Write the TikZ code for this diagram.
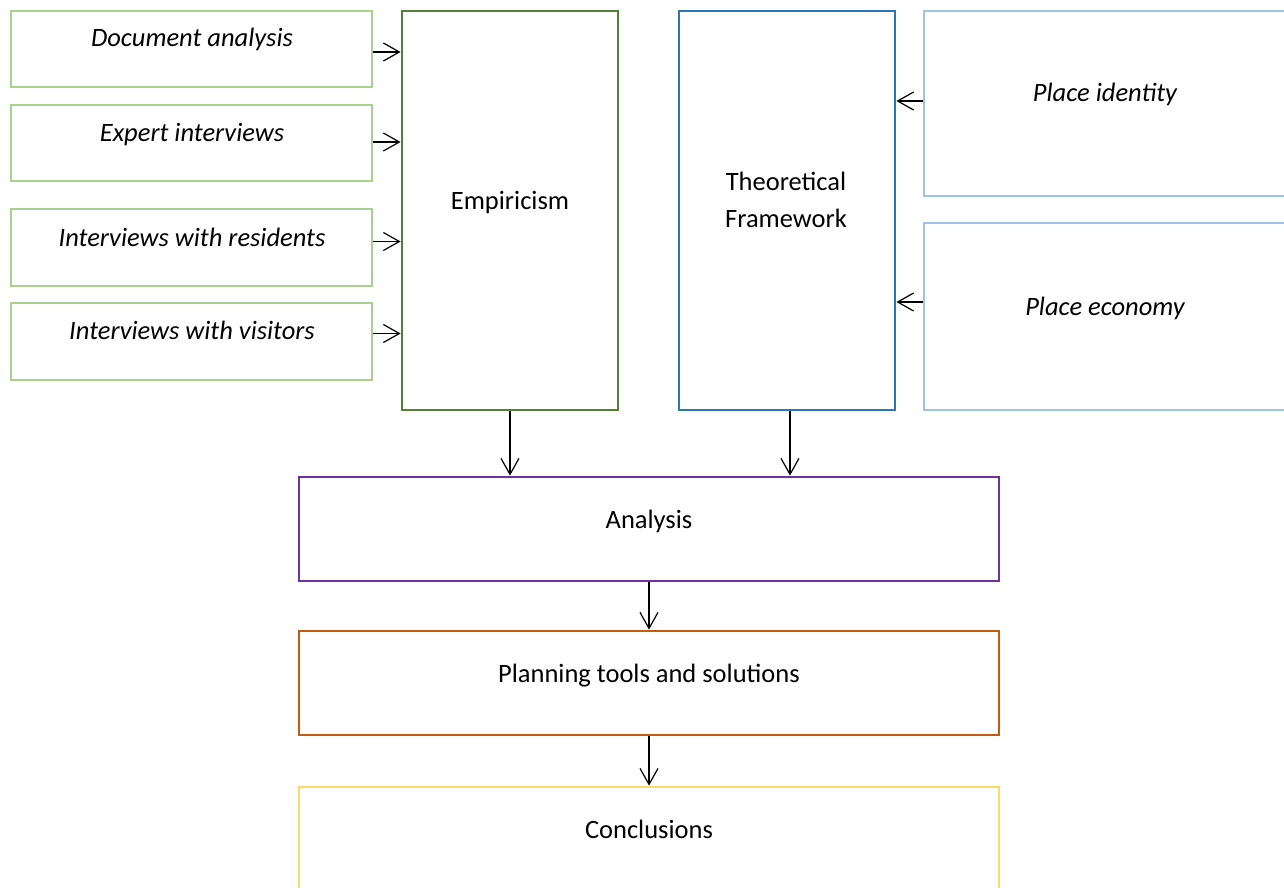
\documentclass[tikz,border=0pt]{standalone}
\usepackage{fontspec}
\setmainfont{Carlito}
\usetikzlibrary{arrows.meta}
\definecolor{lgreen}{HTML}{A9D18E}
\definecolor{dgreen}{HTML}{548235}
\definecolor{mblue}{HTML}{2E75B6}
\definecolor{lblue}{HTML}{9DC3E6}
\definecolor{mpurple}{HTML}{7030A0}
\definecolor{morange}{HTML}{C55A11}
\definecolor{myellow}{HTML}{FFD966}
\tikzset{
  boxnode/.style={draw, line width=2.8pt, inner sep=0pt},
  txt/.style={anchor=base, inner sep=0pt, align=center, font=\fontsize{26.5}{37}\selectfont},
  itxt/.style={txt, font=\fontsize{26.5}{37}\selectfont\itshape},
  arr/.style={line width=1.2pt, -{Straight Barb[length=16pt,width=18pt,line width=1.2pt]}},
}
\begin{document}
\begin{tikzpicture}[x=1pt,y=-1pt]
\useasboundingbox (0,0) rectangle (1284,888);
% left input boxes
\node[boxnode, draw=lgreen, minimum width=361pt, minimum height=76pt] (doc) at (191.5,49) {};
\node[boxnode, draw=lgreen, minimum width=361pt, minimum height=76pt] (exp) at (191.5,143) {};
\node[boxnode, draw=lgreen, minimum width=361pt, minimum height=77pt] (res) at (191.5,247.5) {};
\node[boxnode, draw=lgreen, minimum width=361pt, minimum height=77pt] (vis) at (191.5,341.5) {};
\node[itxt] (tdoc) at (192,47) {Document analysis};
\node[itxt] (texp) at (192,141) {Expert interviews};
\node[itxt] (tres) at (192,246) {Interviews with residents};
\node[itxt] (tvis) at (192,339) {Interviews with visitors};
% central columns
\node[boxnode, draw=dgreen, minimum width=216pt, minimum height=399pt] (emp) at (510,210.5) {};
\node[txt] (temp) at (510,209) {Empiricism};
\node[boxnode, draw=mblue, minimum width=216pt, minimum height=399pt] (theo) at (787,210.5) {};
\node[txt] (ttheo1) at (786,190) {Theoretical};
\node[txt] (ttheo2) at (786,227) {Framework};
% right boxes
\node[boxnode, draw=lblue, minimum width=364pt, minimum height=185pt] (pid) at (1106,103.5) {};
\node[boxnode, draw=lblue, minimum width=364pt, minimum height=187pt] (pec) at (1106,316.5) {};
\node[itxt] (tpid) at (1105,102) {Place identity};
\node[itxt] (tpec) at (1105,315) {Place economy};
% bottom flow
\node[boxnode, draw=mpurple, minimum width=700pt, minimum height=104pt] (ana) at (649,529) {};
\node[txt] (tana) at (649,528) {Analysis};
\node[boxnode, draw=morange, minimum width=700pt, minimum height=104pt] (pla) at (649,683) {};
\node[txt] (tpla) at (649,682) {Planning tools and solutions};
\node[boxnode, draw=myellow, minimum width=700pt, minimum height=112pt] (con) at (649,843) {};
\node[txt] (tcon) at (649,838) {Conclusions};
% connectors
\draw[arr] ([yshift=-3pt]doc.east) -- ([yshift=-3pt]doc.east -| emp.west);
\draw[arr] ([yshift=1pt]exp.east) -- ([yshift=1pt]exp.east -| emp.west);
\draw[arr] ([yshift=6pt]res.east) -- ([yshift=6pt]res.east -| emp.west);
\draw[arr] ([yshift=8pt]vis.east) -- ([yshift=8pt]vis.east -| emp.west);
\draw[arr] ([yshift=2.5pt]pid.west) -- ([yshift=2.5pt]pid.west -| theo.east);
\draw[arr] ([yshift=14.5pt]pec.west) -- ([yshift=14.5pt]pec.west -| theo.east);
\draw[arr] (emp.south) -- (emp.south |- ana.north);
\draw[arr] ([xshift=3pt]theo.south) -- ([xshift=3pt]theo.south |- ana.north);
\draw[arr] (ana.south) -- (pla.north);
\draw[arr] (pla.south) -- (con.north);
\end{tikzpicture}
\end{document}
